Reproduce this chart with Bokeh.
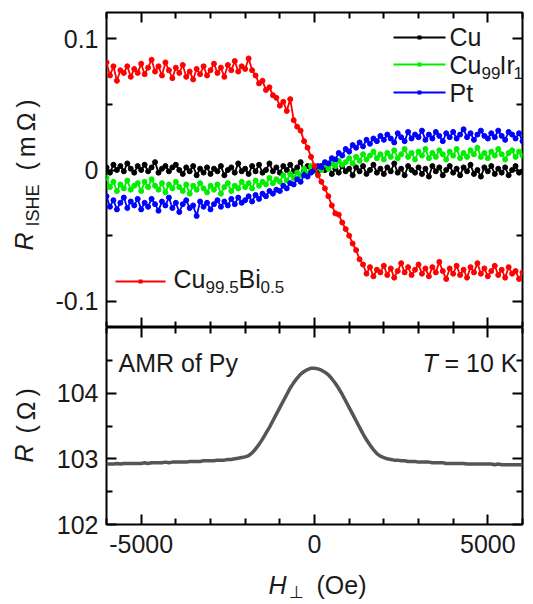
import math
from bokeh.plotting import figure
from bokeh.layouts import column, row
from bokeh.models import Range1d, LinearAxis, FixedTicker, Label, Arrow, BoxAnnotation
from bokeh.embed import file_html
from bokeh.resources import INLINE

FONT = "Liberation Sans"
FS = 25
SUB = 17
INK = "#1a1a1a"

# perpendicular field sweep (Oe)
field_oe = list(range(-6000, 6001, 100))

# inverse spin Hall resistance (mOhm)
r_cu = [
    0.002, -0.002, 0.004, 0.000, 0.003, -0.001, 0.005, 0.001, -0.002, 0.003,
    0.000, 0.004, -0.001, 0.002, 0.006, -0.002, 0.001, 0.003, -0.001, 0.002,
    0.004, 0.000, -0.003, 0.002, -0.001, 0.003, -0.004, 0.001, -0.002, 0.002,
    -0.003, 0.001, -0.001, 0.003, -0.004, 0.000, 0.002, -0.002, 0.005, -0.001,
    0.001, -0.003, 0.003, -0.001, 0.004, -0.002, 0.000, 0.005, -0.001, 0.002,
    -0.002, 0.003, 0.000, 0.004, -0.001, 0.002, 0.006, -0.001, 0.003, 0.001,
    0.002, -0.001, 0.003, 0.000, 0.004, -0.003, 0.001, -0.002, 0.003, -0.001,
    0.001, -0.004, 0.002, -0.001, 0.003, -0.003, 0.000, 0.004, -0.002, 0.001,
    -0.003, 0.002, -0.001, 0.005, -0.002, 0.001, -0.004, 0.003, 0.000, -0.002,
    0.002, -0.003, 0.001, -0.005, 0.003, -0.001, 0.002, -0.004, 0.000, 0.003,
    -0.002, 0.001, -0.004, 0.002, -0.001, 0.004, -0.003, 0.000, -0.005, 0.002,
    -0.001, 0.003, -0.003, 0.001, -0.002, 0.002, -0.004, 0.000, 0.003, -0.002,
    -0.001,
]

r_cuir = [
    -0.006, -0.013, -0.009, -0.016, -0.011, -0.014, -0.008, -0.015, -0.012, -0.010,
    -0.016, -0.009, -0.013, -0.007, -0.012, -0.015, -0.010, -0.017, -0.011, -0.014,
    -0.009, -0.013, -0.016, -0.011, -0.018, -0.012, -0.015, -0.010, -0.014, -0.017,
    -0.012, -0.015, -0.011, -0.018, -0.013, -0.010, -0.016, -0.012, -0.014, -0.009,
    -0.013, -0.010, -0.014, -0.008, -0.012, -0.009, -0.011, -0.006, -0.010, -0.007,
    -0.009, -0.004, -0.008, -0.003, -0.006, -0.002, -0.004, 0.001, -0.003, 0.003,
    -0.001, 0.002, 0.000, 0.004, 0.001, 0.005, 0.003, 0.007, 0.004, 0.006,
    0.009, 0.005, 0.010, 0.007, 0.012, 0.008, 0.011, 0.014, 0.009, 0.012,
    0.008, 0.013, 0.010, 0.015, 0.009, 0.012, 0.016, 0.010, 0.013, 0.008,
    0.014, 0.011, 0.016, 0.009, 0.013, 0.010, 0.015, 0.012, 0.008, 0.014,
    0.011, 0.016, 0.009, 0.013, 0.010, 0.015, 0.012, 0.017, 0.010, 0.013,
    0.009, 0.014, 0.011, 0.016, 0.012, 0.008, 0.013, 0.015, 0.010, 0.014,
    0.011,
]

r_pt = [
    -0.020, -0.028, -0.023, -0.030, -0.025, -0.021, -0.029, -0.024, -0.027, -0.022,
    -0.030, -0.025, -0.028, -0.022, -0.026, -0.031, -0.024, -0.027, -0.021, -0.029,
    -0.025, -0.032, -0.026, -0.023, -0.029, -0.027, -0.035, -0.024, -0.028, -0.025,
    -0.030, -0.026, -0.023, -0.028, -0.024, -0.027, -0.022, -0.026, -0.021, -0.025,
    -0.023, -0.020, -0.024, -0.019, -0.022, -0.018, -0.020, -0.016, -0.018, -0.015,
    -0.016, -0.012, -0.014, -0.010, -0.011, -0.007, -0.009, -0.004, -0.005, -0.002,
    0.000, 0.003, 0.002, 0.006, 0.005, 0.009, 0.008, 0.013, 0.011, 0.016,
    0.014, 0.019, 0.017, 0.021, 0.018, 0.023, 0.020, 0.024, 0.022, 0.026,
    0.023, 0.027, 0.024, 0.021, 0.028, 0.025, 0.022, 0.029, 0.024, 0.027,
    0.025, 0.030, 0.023, 0.027, 0.024, 0.029, 0.026, 0.022, 0.028, 0.025,
    0.029, 0.024, 0.027, 0.031, 0.025, 0.028, 0.023, 0.027, 0.030, 0.026,
    0.024, 0.028, 0.025, 0.030, 0.026, 0.023, 0.029, 0.027, 0.024, 0.028,
    0.022,
]

r_cubi = [
    0.082, 0.072, 0.079, 0.068, 0.076, 0.074, 0.079, 0.071, 0.077, 0.074,
    0.081, 0.073, 0.078, 0.084, 0.075, 0.079, 0.072, 0.082, 0.076, 0.070,
    0.078, 0.074, 0.080, 0.071, 0.075, 0.069, 0.077, 0.073, 0.079, 0.072,
    0.076, 0.081, 0.074, 0.078, 0.071, 0.080, 0.076, 0.083, 0.075, 0.079,
    0.077, 0.085, 0.076, 0.072, 0.066, 0.068, 0.061, 0.063, 0.057, 0.055,
    0.049, 0.052, 0.045, 0.054, 0.038, 0.033, 0.030, 0.022, 0.017, 0.010,
    0.003, -0.004, -0.009, -0.014, -0.020, -0.027, -0.033, -0.034, -0.040, -0.045,
    -0.050, -0.056, -0.061, -0.068, -0.072, -0.079, -0.074, -0.081, -0.076, -0.078,
    -0.073, -0.080, -0.075, -0.082, -0.077, -0.071, -0.078, -0.074, -0.080, -0.076,
    -0.072, -0.079, -0.075, -0.081, -0.074, -0.078, -0.070, -0.077, -0.083, -0.075,
    -0.079, -0.073, -0.080, -0.076, -0.082, -0.074, -0.078, -0.071, -0.079, -0.075,
    -0.081, -0.077, -0.073, -0.080, -0.076, -0.082, -0.074, -0.079, -0.077, -0.083,
    -0.078,
]

# anisotropic magnetoresistance of Py (Ohm)
r_amr = [
    102.92, 102.92, 102.92, 102.93, 102.92, 102.93, 102.93, 102.93, 102.93, 102.93,
    102.93, 102.94, 102.93, 102.94, 102.94, 102.94, 102.94, 102.95, 102.94, 102.95,
    102.95, 102.95, 102.95, 102.95, 102.96, 102.96, 102.96, 102.96, 102.97, 102.97,
    102.97, 102.97, 102.98, 102.98, 102.98, 102.99, 102.99, 103.00, 103.01, 103.02,
    103.03, 103.05, 103.09, 103.15, 103.22, 103.30, 103.39, 103.48, 103.58, 103.68,
    103.78, 103.88, 103.98, 104.08, 104.16, 104.23, 104.29, 104.33, 104.36, 104.38,
    104.38, 104.37, 104.35, 104.32, 104.28, 104.22, 104.15, 104.07, 103.98, 103.88,
    103.78, 103.68, 103.58, 103.48, 103.38, 103.29, 103.21, 103.14, 103.08, 103.04,
    103.02, 103.00, 102.99, 102.98, 102.98, 102.97, 102.97, 102.96, 102.96, 102.96,
    102.95, 102.95, 102.95, 102.95, 102.94, 102.94, 102.94, 102.94, 102.93, 102.93,
    102.93, 102.93, 102.93, 102.93, 102.92, 102.92, 102.92, 102.92, 102.92, 102.92,
    102.92, 102.92, 102.91, 102.92, 102.91, 102.91, 102.91, 102.91, 102.91, 102.91,
    102.91,
]

x_major = [-5000, 0, 5000]
x_minor = [-6000, -4000, -3000, -2000, -1000, 1000, 2000, 3000, 4000, 6000]
x_labels = {-5000: "-5000", 0: "0", 5000: "5000"}
ishe_major = [-0.1, 0, 0.1]
ishe_minor = [-0.05, 0.05]
ishe_labels = {-0.1: "-0.1", 0: "0", 0.1: "0.1"}
amr_major = [102, 103, 104]
amr_minor = [102.5, 103.5, 104.5]
amr_labels = {102: "102", 103: "103", 104: "104"}

x_range = Range1d(-6000, 6000)

STRIP_W = 46        # column holding the rotated y titles
LEFT_B = 60         # room for the y tick labels
MAIN_W = 533 - STRIP_W
PANELS_H = 566      # both panels incl. x tick labels
XTITLE_H = 604 - PANELS_H
DROP = 0.42         # baseline drop of Label text, as a fraction of font size


def style_axis(ax, major, minor, labels=None):
    ax.ticker = FixedTicker(ticks=major, minor_ticks=minor)
    ax.axis_line_color = None
    ax.major_tick_in = 10
    ax.major_tick_out = 0
    ax.minor_tick_in = 6
    ax.minor_tick_out = 0
    ax.major_tick_line_width = 2
    ax.minor_tick_line_width = 2
    ax.major_tick_line_color = "black"
    ax.minor_tick_line_color = "black"
    if labels:
        ax.major_label_overrides = labels
        ax.major_label_text_font = FONT
        ax.major_label_text_font_size = f"{FS}px"
        ax.major_label_text_color = INK
    else:
        # tick marks only
        ax.major_label_text_font_size = "0px"
        ax.major_label_text_color = None
        ax.major_label_standoff = 0


def new_panel(y0, y1, fh, top, bottom):
    p = figure(frame_width=416, frame_height=fh, x_range=x_range,
               y_range=Range1d(y0, y1), output_backend="svg", title=None,
               toolbar_location=None, min_border_left=LEFT_B,
               min_border_right=MAIN_W - LEFT_B - 416, min_border_top=top,
               min_border_bottom=bottom)
    p.grid.visible = False
    p.outline_line_color = "black"
    p.outline_line_width = 2
    p.outline_line_alpha = 1
    p.background_fill_color = "white"
    p.border_fill_color = "white"
    return p


def blank(w, h):
    p = figure(frame_width=w, frame_height=h, output_backend="svg", title=None,
               toolbar_location=None, x_axis_location=None,
               y_axis_location=None, min_border=0, min_border_left=0,
               min_border_right=0, min_border_top=0, min_border_bottom=0)
    p.grid.visible = False
    p.outline_line_color = None
    p.background_fill_color = "white"
    p.border_fill_color = "white"
    return p


def text(p, x, y, s, size=FS, style="normal", rotated=False):
    # x, y: start of the text baseline, in px from the frame's lower left
    d = DROP * size
    if rotated:
        x, angle = x - d, math.pi / 2
    else:
        y, angle = y + d, 0
    p.add_layout(Label(x=x, y=y, x_units="screen", y_units="screen", text=s,
                       text_font=FONT, text_font_size=f"{size}px",
                       text_font_style=style, text_color=INK,
                       text_align="left", text_baseline="alphabetic",
                       angle=angle))


def sample(p, x0, x1, y, color):
    p.add_layout(Arrow(end=None, x_start=x0, y_start=y, x_end=x1, y_end=y,
                       start_units="screen", end_units="screen",
                       line_color=color, line_width=2))
    xm = (x0 + x1) / 2
    p.add_layout(BoxAnnotation(left=xm - 2, right=xm + 2, bottom=y - 2, top=y + 2,
                               left_units="screen", right_units="screen",
                               bottom_units="screen", top_units="screen",
                               fill_color=color, fill_alpha=1, line_color=None))


# ---- upper panel: ISHE signals ----
top = new_panel(-0.12, 0.12, 315, 12, 0)
style_axis(top.yaxis[0], ishe_major, ishe_minor, ishe_labels)
top.yaxis[0].major_label_standoff = 8
style_axis(top.xaxis[0], x_major, x_minor)
right_t = LinearAxis()
style_axis(right_t, ishe_major, ishe_minor)
top.add_layout(right_t, "right")
above_t = LinearAxis()
style_axis(above_t, x_major, x_minor)
top.add_layout(above_t, "above")

series = [(r_cu, "black"), (r_cuir, "#00ee00"), (r_pt, "#0000ff"), (r_cubi, "#ff0000")]
for vals, col in series:
    top.line(field_oe, vals, line_color=col, line_width=1.8)
    top.scatter(field_oe, vals, marker="circle", size=5, fill_color=col,
                line_color=col)

# legend
sample(top, 287, 339, 290, "black")
text(top, 343, 280, "Cu")
sample(top, 287, 339, 263, "#00ee00")
text(top, 343, 252, "Cu")
text(top, 375, 247, "99", size=SUB)
text(top, 393, 252, "Ir")
text(top, 407, 247, "1", size=SUB)
sample(top, 287, 339, 235, "#0000ff")
text(top, 343, 224, "Pt")
sample(top, 9, 59, 46, "#ff0000")
text(top, 67, 38, "Cu")
text(top, 99, 33, "99.5", size=SUB)
text(top, 132, 38, "Bi")
text(top, 154, 33, "0.5", size=SUB)

# ---- lower panel: AMR ----
bot = new_panel(102, 105, 197, 0, PANELS_H - 524)
style_axis(bot.yaxis[0], amr_major, amr_minor, amr_labels)
bot.yaxis[0].major_label_standoff = 8
style_axis(bot.xaxis[0], x_major, x_minor, x_labels)
bot.xaxis[0].major_label_standoff = 10
right_b = LinearAxis()
style_axis(right_b, amr_major, amr_minor)
bot.add_layout(right_b, "right")
above_b = LinearAxis()
style_axis(above_b, x_major, x_minor)
bot.add_layout(above_b, "above")

bot.line(field_oe, r_amr, line_color="#555555", line_width=3.5)

text(bot, 12, 151, "AMR of Py")
text(bot, 316, 151, "T", style="italic")
text(bot, 338, 151, "= 10 K")

# ---- y titles: R_ISHE (mΩ) and R (Ω) ----
ytitle = blank(STRIP_W, PANELS_H)
text(ytitle, 34, PANELS_H - 250, "R", style="italic", rotated=True)
text(ytitle, 40, PANELS_H - 226, "ISHE", size=18, rotated=True)
text(ytitle, 36, PANELS_H - 170, "(\u2009m\u2009\u03a9\u2009)", rotated=True)
text(ytitle, 34, PANELS_H - 462, "R", style="italic", rotated=True)
text(ytitle, 36, PANELS_H - 433, "(\u2009\u03a9\u2009)", rotated=True)

# ---- x title: H⊥ (Oe) ----
xtitle = blank(533, XTITLE_H)
text(xtitle, 268, 9, "H", style="italic")
text(xtitle, 288, 5, "\u22a5", size=SUB)
text(xtitle, 316, 9, "(Oe)")

layout = column(row(ytitle, column(top, bot, spacing=0), spacing=0), xtitle,
                spacing=0)
open("out.html", "w").write(file_html(layout, INLINE))
